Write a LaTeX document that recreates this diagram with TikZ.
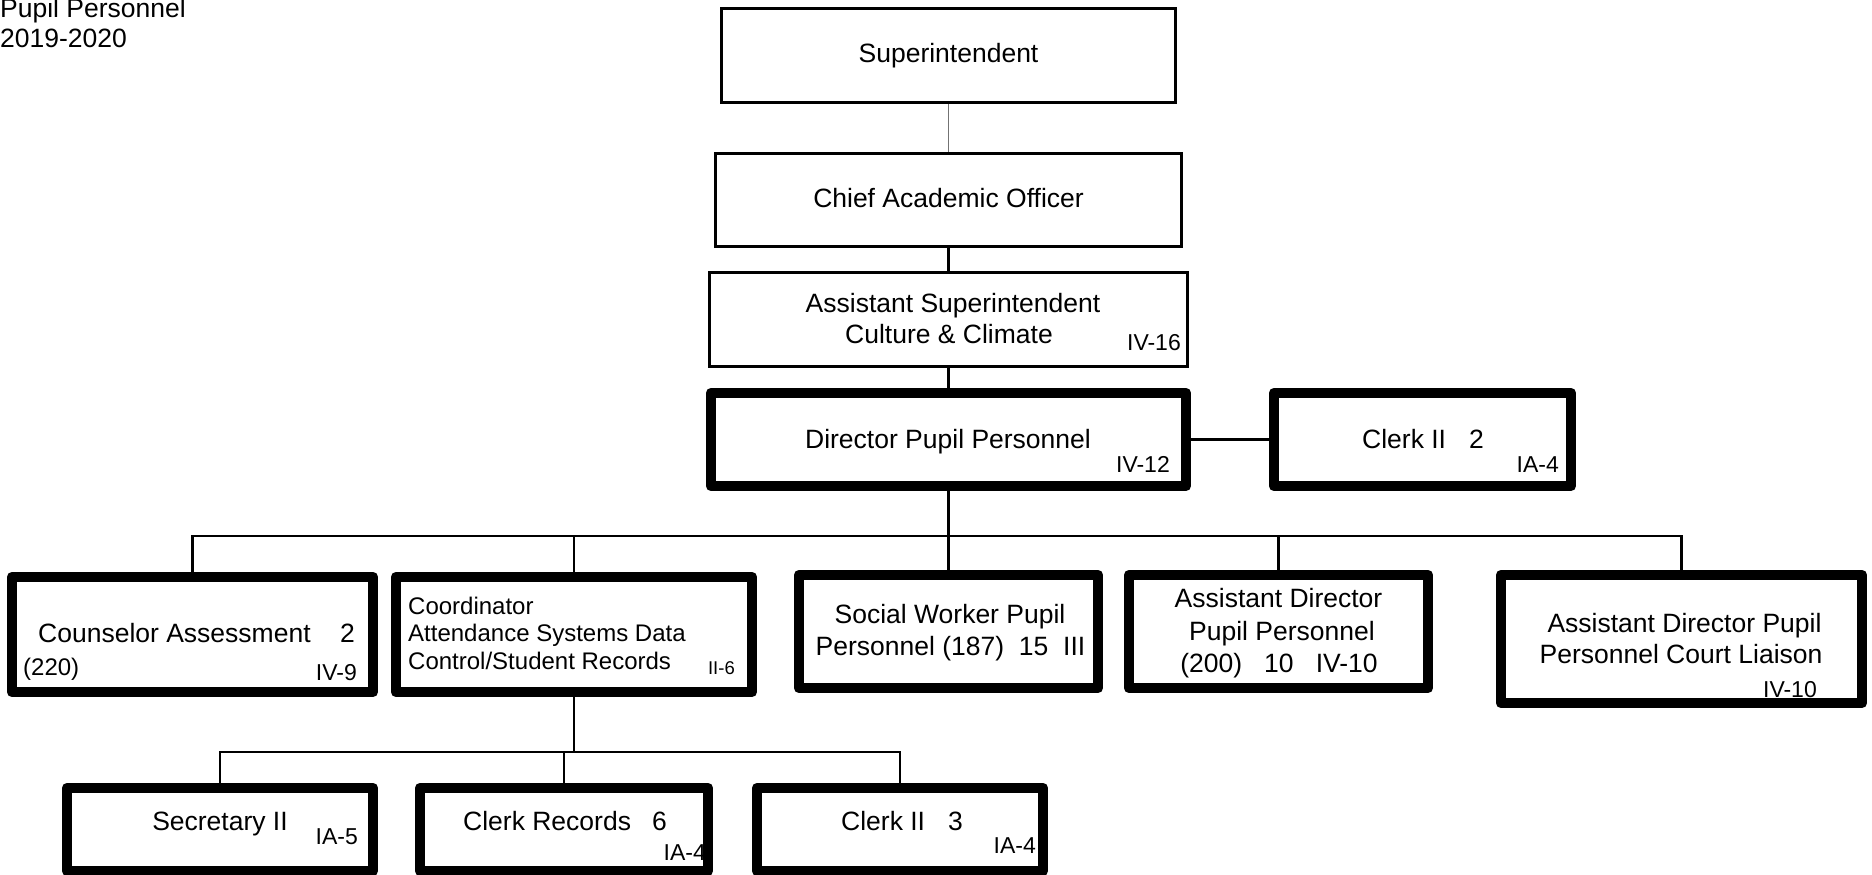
\documentclass[tikz,border=0pt]{standalone}
\usepackage{fontspec}
\setmainfont{Liberation Sans}
\begin{document}
\begin{tikzpicture}[x=1pt,y=-1pt,
  thinbox/.style={draw, line width=2.7pt, inner sep=0pt, fill=white},
  thickbox/.style={draw, line width=10.5pt, line join=round, inner sep=0pt, fill=white},
  conn/.style={line width=2.5pt},
  connb/.style={line width=3.5pt},
  conng/.style={line width=1.5pt, draw=black!55},
  big/.style={inner sep=0pt, font=\fontsize{26.5}{31}\selectfont},
  mid/.style={inner sep=0pt, font=\fontsize{24}{28}\selectfont},
  sml/.style={inner sep=0pt, font=\fontsize{23}{27}\selectfont},
  tiny/.style={inner sep=0pt, font=\fontsize{18.5}{22}\selectfont}]
\useasboundingbox (0,0) rectangle (1872,875);

% title
\node[big, anchor=base west] (title1) at (0,18) {Pupil Personnel};
\node[big, anchor=base west] (title2) at (0,48) {2019-2020};

% boxes
\node[thinbox, minimum width=454.5pt, minimum height=94.5pt] (sup) at (948.5,55.5) {};
\node[thinbox, minimum width=466.5pt, minimum height=93.5pt] (cao) at (948.5,200) {};
\node[thinbox, minimum width=478.5pt, minimum height=94.5pt] (asup) at (948.5,319.5) {};
\node[thickbox, minimum width=475pt, minimum height=93pt] (dir) at (948.5,439.5) {};
\node[thickbox, minimum width=297pt, minimum height=93pt] (clerka) at (1422.5,439.5) {};
\node[thickbox, minimum width=361pt, minimum height=115pt] (couns) at (192.5,634.5) {};
\node[thickbox, minimum width=356pt, minimum height=115pt] (coord) at (574,634.5) {};
\node[thickbox, minimum width=299pt, minimum height=113pt] (social) at (948.5,631.5) {};
\node[thickbox, minimum width=299pt, minimum height=113pt] (asstdir) at (1278.5,631.5) {};
\node[thickbox, minimum width=361pt, minimum height=128pt] (court) at (1681.5,639) {};
\node[thickbox, minimum width=306pt, minimum height=83pt] (sec) at (220,829.5) {};
\node[thickbox, minimum width=288pt, minimum height=83pt] (clrec) at (564,829.5) {};
\node[thickbox, minimum width=286pt, minimum height=83pt] (clerkb) at (900,829.5) {};

% texts
\node[big, anchor=base] (t-sup) at (948.5,63) {Superintendent};
\node[big, anchor=base] (t-cao) at (948.5,207) {Chief Academic Officer};
\node[big, anchor=base] (t-asup1) at (953,312) {Assistant Superintendent};
\node[big, anchor=base] (t-asup2) at (949,343) {Culture \& Climate};
\node[sml, anchor=base east] (g-asup) at (1181,350) {IV-16};
\node[big, anchor=base] (t-dir) at (948,448) {Director Pupil Personnel};
\node[sml, anchor=base east] (g-dir) at (1170,472) {IV-12};
\node[big, anchor=base] (t-clerka) at (1423,448) {Clerk II\hspace{23pt}2};
\node[sml, anchor=base east] (g-clerka) at (1559,472) {IA-4};

\node[big, anchor=base west] (t-couns) at (38,642) {Counselor Assessment};
\node[big, anchor=base east] (n-couns) at (355,642) {2};
\node[mid, anchor=base west] (c-couns) at (23,675) {(220)};
\node[sml, anchor=base east] (g-couns) at (357,680) {IV-9};

\node[mid, anchor=base west] (t-coord1) at (408,614) {Coordinator};
\node[mid, anchor=base west] (t-coord2) at (408,641) {Attendance Systems Data};
\node[mid, anchor=base west] (t-coord3) at (408,669) {Control/Student Records};
\node[tiny, anchor=base east] (g-coord) at (735,674) {II-6};

\node[big, anchor=base] (t-social1) at (950,623) {Social Worker Pupil};
\node[big, anchor=base] (t-social2) at (950.5,655) {Personnel (187)~~15~~III};

\node[big, anchor=base] (t-asstdir1) at (1278.5,607) {Assistant Director};
\node[big, anchor=base] (t-asstdir2) at (1282,640) {Pupil Personnel};
\node[big, anchor=base] (t-asstdir3) at (1279,672) {(200)~~~10~~~IV-10};

\node[big, anchor=base] (t-court1) at (1684.5,632) {Assistant Director Pupil};
\node[big, anchor=base] (t-court2) at (1681,663) {Personnel Court Liaison};
\node[sml, anchor=base east] (g-court) at (1817,697) {IV-10};

\node[big, anchor=base] (t-sec) at (220,830) {Secretary II};
\node[sml, anchor=base east] (g-sec) at (358,844) {IA-5};
\node[big, anchor=base] (t-clrec) at (565,830) {Clerk Records\hspace{21pt}6};
\node[sml, anchor=base east] (g-clrec) at (706,860) {IA-4};
\node[big, anchor=base] (t-clerkb) at (902,830) {Clerk II\hspace{23pt}3};
\node[sml, anchor=base east] (g-clerkb) at (1036,853) {IA-4};

% connectors
\coordinate (bus) at (0,536);
\coordinate (busb) at (0,752);
\draw[conng] (sup.south) -- (cao.north);
\draw[connb] (cao.south) -- (asup.north);
\draw[conn] (asup.south) -- (dir.north);
\draw[conn] (dir.east) -- (clerka.west);
\foreach \c in {couns,coord,social,asstdir,court}
  \draw[conn] (dir.south) -- (dir.south |- bus) -| (\c.north);
\foreach \c in {sec,clrec,clerkb}
  \draw[conn] (coord.south) -- (coord.south |- busb) -| (\c.north);
\end{tikzpicture}
\end{document}
